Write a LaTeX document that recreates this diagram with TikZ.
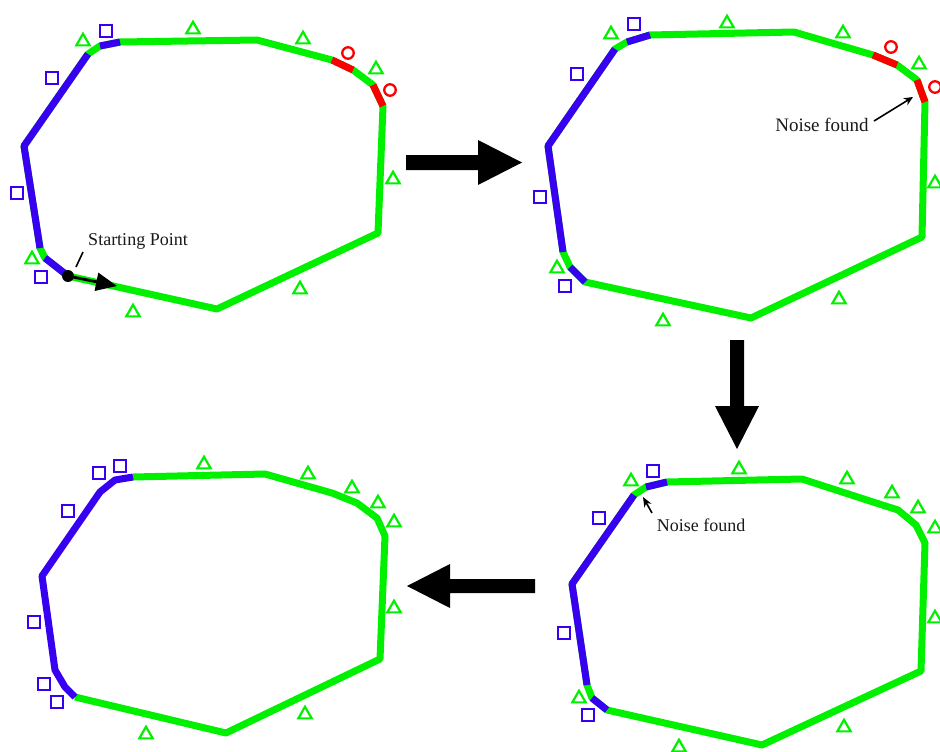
\documentclass[tikz,border=0pt]{standalone}
\usepackage{fontspec}
\newfontfamily\lblfont{Liberation Serif}
\usetikzlibrary{shapes.geometric,arrows.meta}
\definecolor{cgreen}{RGB}{0,240,0}
\definecolor{cblue}{RGB}{55,0,240}
\definecolor{cred}{RGB}{250,0,0}
\begin{document}
\begin{tikzpicture}[x=1pt,y=-1pt,
  seg/.style={line width=7pt},
  gpath/.style={seg,draw=cgreen,line join=round},
  bpath/.style={seg,draw=cblue,line join=round},
  rpath/.style={seg,draw=cred},
  tri/.style={regular polygon,regular polygon sides=3,draw=cgreen,line width=2.2pt,minimum size=15.5pt,inner sep=0pt,yshift=-1.5pt},
  sqr/.style={rectangle,draw=cblue,line width=1.7pt,minimum size=12pt,inner sep=0pt},
  circ/.style={circle,draw=cred,line width=2.3pt,minimum size=11.5pt,inner sep=0pt},
  bigarrow/.style={fill=black},
  lbl/.style={font=\lblfont\fontsize{18}{21}\selectfont,inner sep=1pt,text=black!90},
  ann/.style={black,line width=1.6pt}
]
\useasboundingbox (0,0) rectangle (940,752);

% ---------- Panel 1 ----------
\draw[gpath] (68,276) -- (217,309) -- (378,233) -- (383,106) -- (373,85) -- (353,70) -- (332,60) -- (257,40) -- (120,42) -- (100,46) -- (88,54) -- (24,146) -- (40,248) -- (45,258) -- cycle;
\draw[bpath] (120,42) -- (100,46);
\draw[bpath] (88,54) -- (24,146) -- (40,248);
\draw[bpath] (45,258) -- (68,276);
\draw[rpath] (383,106) -- (373,85);
\draw[rpath] (353,70) -- (332,60);
\foreach \p in {(83,40),(193,28),(303,38),(376,68),(393,178),(300,288),(133,311),(32,258)}
  \node[tri] at \p {};
\foreach \p in {(106,31),(52,78),(17,193),(41,277)}
  \node[sqr] at \p {};
\foreach \p in {(348,53),(390,90)}
  \node[circ] at \p {};
\node[circle,fill=black,minimum size=12pt,inner sep=0pt] (sp) at (68,276) {};
\coordinate (spend) at (117,286);
\draw[black,line width=2.8pt,-{Triangle[length=21pt,width=18pt]}] (sp.center) -- (spend);
\node[lbl] (splbl) at (138,241) {Starting Point};
\coordinate (splineA) at (76,267);
\coordinate (splineB) at (83,252);
\draw[ann] (splineA) -- (splineB);

% ---------- big arrows ----------
\fill[bigarrow] (406,155) -- (478,155) -- (478,140) -- (522,162.5) -- (478,185) -- (478,170) -- (406,170) -- cycle;
\fill[bigarrow] (730,340) -- (744,340) -- (744,406) -- (759,406) -- (737,449) -- (715,406) -- (730,406) -- cycle;
\fill[bigarrow] (535,579) -- (450,579) -- (450,564) -- (407,586) -- (450,608) -- (450,593) -- (535,593) -- cycle;

% ---------- Panel 2 ----------
\draw[gpath] (585,282) -- (751,318) -- (922,237) -- (925,102) -- (917,80) -- (897,65) -- (873,55) -- (794,32) -- (650,35) -- (627,42) -- (615,49) -- (548,146) -- (563,252) -- (570,267) -- cycle;
\draw[bpath] (650,35) -- (627,42);
\draw[bpath] (615,49) -- (548,146) -- (563,252);
\draw[bpath] (570,267) -- (585,282);
\draw[rpath] (925,102) -- (917,80);
\draw[rpath] (897,65) -- (873,55);
\foreach \p in {(611,33),(727,22),(843,32),(919,63),(935,182),(839,298),(663,320),(557,267)}
  \node[tri] at \p {};
\foreach \p in {(634,24),(577,74),(540,197),(565,286)}
  \node[sqr] at \p {};
\foreach \p in {(891,47),(935,87)}
  \node[circ] at \p {};
\node[lbl,font=\lblfont\fontsize{19}{22}\selectfont] (nf1) at (822,125) {Noise found};
\coordinate (nf1s) at (874,121);
\coordinate (nf1t) at (913,97);
\draw[ann,-{Stealth[length=9pt,width=8pt]}] (nf1s) -- (nf1t);

% ---------- Panel 3 ----------
\draw[gpath] (607,710) -- (762,745) -- (921,671) -- (925,543) -- (916,525) -- (898,510) -- (873,502) -- (802,479) -- (667,482) -- (646,487) -- (634,495) -- (572,584) -- (587,685) -- (592,698) -- cycle;
\draw[bpath] (667,482) -- (646,487);
\draw[bpath] (634,495) -- (572,584) -- (587,685);
\draw[bpath] (592,698) -- (607,710);
\foreach \p in {(631,480),(739,468),(847,478),(892,492),(918,507),(935,527),(935,617),(844,726),(679,746),(579,697)}
  \node[tri] at \p {};
\foreach \p in {(653,471),(599,518),(564,633),(588,715)}
  \node[sqr] at \p {};
\node[lbl] (nf2) at (701,525) {Noise found};
\coordinate (nf2s) at (652,513);
\coordinate (nf2t) at (643,497);
\draw[ann,-{Stealth[length=10pt,width=8pt]}] (nf2s) -- (nf2t);

% ---------- Panel 4 ----------
\draw[gpath] (75,697) -- (226,733) -- (380,659) -- (385,536) -- (377,518) -- (357,503) -- (332,493) -- (265,474) -- (133,477);
\draw[bpath] (133,477) -- (115,480) -- (100,492) -- (42,576) -- (55,670) -- (65,687) -- (75,697);
\foreach \p in {(204,463),(308,473),(352,487),(378,502),(394,521),(394,607),(305,713),(146,733)}
  \node[tri] at \p {};
\foreach \p in {(99,473),(120,466),(68,511),(34,622),(44,684),(57,702)}
  \node[sqr] at \p {};
\end{tikzpicture}
\end{document}
